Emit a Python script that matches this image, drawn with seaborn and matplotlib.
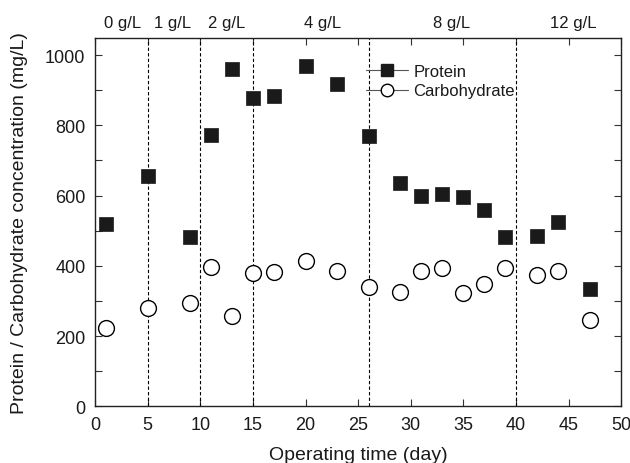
import matplotlib
matplotlib.use("Agg")
import matplotlib.pyplot as plt
import matplotlib.transforms as mtransforms
from matplotlib.lines import Line2D
from matplotlib.ticker import MultipleLocator
import pandas as pd
import seaborn as sns

# days sampled
days = [1, 5, 9, 11, 13, 15, 17, 20, 23, 26, 29, 31, 33, 35, 37, 39, 42, 44, 47]
protein = [520, 655, 482, 773, 960, 878, 884, 970, 918, 770,
           636, 598, 604, 596, 558, 482, 485, 524, 333]
carbo = [222, 279, 293, 396, 257, 381, 383, 413, 386, 339,
         327, 384, 393, 324, 348, 393, 373, 386, 247]

# phase boundaries and labels
phase_days = [5, 10, 15, 26, 40]
phase_labels = ["0 g/L", "1 g/L", "2 g/L", "4 g/L", "8 g/L", "12 g/L"]
label_pos = [2.6, 7.4, 12.5, 21.6, 33.9, 45.4]

df = pd.DataFrame({"day": days, "Protein": protein, "Carbohydrate": carbo})

sns.set_style("ticks")
plt.rcParams['font.family'] = ['Liberation Sans', 'DejaVu Sans']
plt.rcParams['text.color'] = "#1a1a1a"
plt.rcParams['axes.labelcolor'] = "#1a1a1a"
plt.rcParams['xtick.labelcolor'] = "#1a1a1a"
plt.rcParams['ytick.labelcolor'] = "#1a1a1a"

fig = plt.figure(figsize=(6.3, 4.64), dpi=100)
ax = fig.add_axes([0.151, 0.122, 0.835, 0.795])

for d in phase_days:
    ax.axvline(d, color="black", ls=(0, (3, 2)), lw=0.8, zorder=1)

sns.scatterplot(data=df, x="day", y="Protein", marker="s", color="#1a1a1a",
                s=110, edgecolor="#1a1a1a", linewidth=0.5, ax=ax, zorder=3)
sns.scatterplot(data=df, x="day", y="Carbohydrate", marker="o", color="white",
                s=130, edgecolor="black", linewidth=1.0, ax=ax, zorder=3)

ax.set_xlim(0, 50)
ax.set_ylim(0, 1050)
ax.xaxis.set_major_locator(MultipleLocator(5))
ax.yaxis.set_major_locator(MultipleLocator(200))
ax.yaxis.set_minor_locator(MultipleLocator(100))
ax.tick_params(which="both", direction="in", top=True, right=True, labelsize=13,
               width=0.8, color="#333333", pad=7)
ax.tick_params(which="major", length=5)
ax.tick_params(which="minor", length=5)
for sp in ax.spines.values():
    sp.set_linewidth(1.0)
    sp.set_color("#222222")

ax.set_xlabel("Operating time (day)", fontsize=14, labelpad=9)
ax.set_ylabel("Protein / Carbohydrate concentration (mg/L)", fontsize=14, labelpad=12)

# last x tick label sits at the figure edge, nudge it in a bit
fig.canvas.draw()
last = ax.get_xticklabels()[-1]
last.set_transform(last.get_transform() +
                   mtransforms.ScaledTranslation(-4 / 100, 0, fig.dpi_scale_trans))

for lab, xp in zip(phase_labels, label_pos):
    ax.text(xp, 1071, lab, ha="center", va="bottom", fontsize=12)

handles = [
    Line2D([], [], color="#555555", lw=0.8, marker="s", markersize=8,
           markerfacecolor="#1a1a1a", markeredgecolor="#1a1a1a"),
    Line2D([], [], color="#555555", lw=0.8, marker="o", markersize=9,
           markerfacecolor="white", markeredgecolor="black"),
]
ax.legend(handles, ["Protein", "Carbohydrate"], loc="upper left",
          bbox_to_anchor=(0.50, 0.95), frameon=False, fontsize=12,
          handlelength=2.5, handletextpad=0.3, labelspacing=0.25, borderpad=0)

fig.savefig("out.png", dpi=100)
